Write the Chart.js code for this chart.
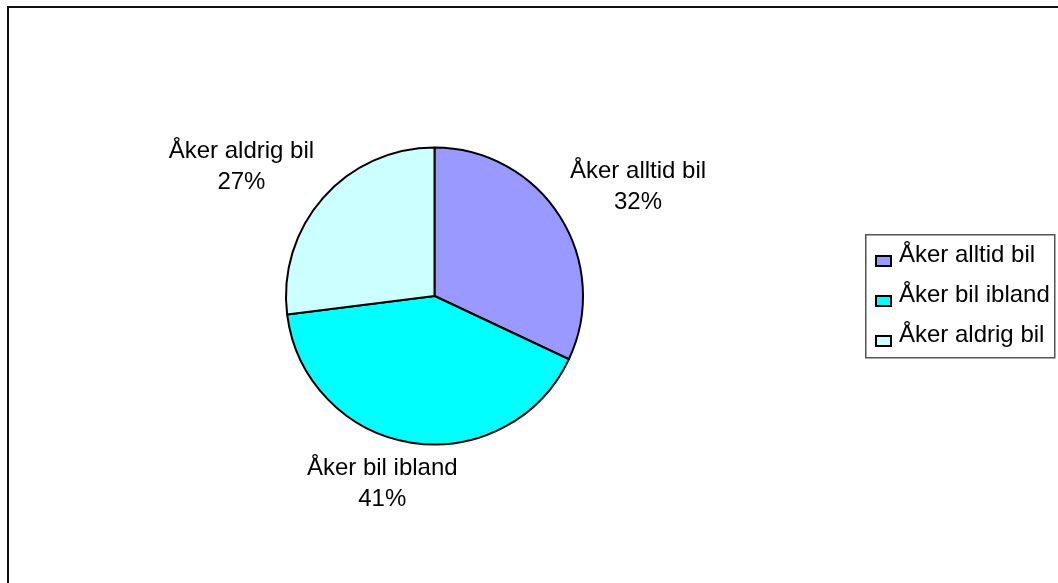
<!DOCTYPE html>
<html>
<head>
<meta charset="utf-8">
<script src="https://cdn.jsdelivr.net/npm/chart.js@4/dist/chart.umd.min.js"></script>
<style>
  html, body { margin: 0; padding: 0; background: #fff; }
  canvas { display: block; }
</style>
</head>
<body>
<canvas id="c" width="1058" height="583"></canvas>
<script>
// Andel som åker bil
const categories = ['Åker alltid bil', 'Åker bil ibland', 'Åker aldrig bil'];
const shares = [32, 41, 27];
const sliceColors = ['#9999FF', '#00FFFF', '#CCFFFF'];

const FONT = '"Liberation Sans", Arial, sans-serif';
const FONT_SIZE = 24;

// Outer frame (left and top edges visible)
const framePlugin = {
  id: 'frame',
  beforeDraw(chart) {
    const ctx = chart.ctx;
    ctx.save();
    ctx.fillStyle = '#fff';
    ctx.fillRect(0, 0, chart.width, chart.height);
    ctx.strokeStyle = '#111';
    ctx.lineWidth = 2;
    ctx.beginPath();
    ctx.moveTo(8, chart.height + 2);
    ctx.lineTo(8, 7);
    ctx.lineTo(chart.width + 2, 7);
    ctx.stroke();
    ctx.restore();
  }
};

// Category name and percentage outside each slice
const sliceLabelPlugin = {
  id: 'sliceLabels',
  afterDatasetsDraw(chart) {
    const ctx = chart.ctx;
    const meta = chart.getDatasetMeta(0);
    const values = chart.data.datasets[0].data;
    const total = values.reduce((a, b) => a + b, 0);
    const clamp = v => Math.max(-1, Math.min(1, v));
    ctx.save();
    ctx.font = FONT_SIZE + 'px ' + FONT;
    ctx.fillStyle = '#000';
    ctx.textAlign = 'center';
    ctx.textBaseline = 'alphabetic';
    meta.data.forEach((arc, i) => {
      const p = arc.getProps(['x', 'y', 'startAngle', 'endAngle', 'outerRadius'], true);
      const mid = (p.startAngle + p.endAngle) / 2;
      const dx = Math.cos(mid), dy = Math.sin(mid);
      const d = p.outerRadius + 12;
      const ax = p.x + dx * d, ay = p.y + dy * d;
      const line1 = chart.data.labels[i];
      const line2 = Math.round(values[i] / total * 100) + '%';
      const w = Math.max(ctx.measureText(line1).width, ctx.measureText(line2).width);
      const halfW = w / 2, halfH = 26;
      const cx = ax + halfW * clamp(dx * 2.3);
      const cy = ay + halfH * clamp(dy * 2.3);
      ctx.fillText(line1, cx, cy - 6);
      ctx.fillText(line2, cx, cy + 25);
    });
    ctx.restore();
  }
};

// Boxed legend to the right of the pie
const boxLegendPlugin = {
  id: 'boxLegend',
  afterDraw(chart) {
    const ctx = chart.ctx;
    const ds = chart.data.datasets[0];
    const left = chart.width - 193, top = 234, width = 189, height = 123;
    ctx.save();
    ctx.strokeStyle = '#555';
    ctx.lineWidth = 1.5;
    ctx.strokeRect(left + 0.75, top + 0.75, width, height);
    ctx.font = FONT_SIZE + 'px ' + FONT;
    ctx.textAlign = 'left';
    ctx.textBaseline = 'alphabetic';
    chart.data.labels.forEach((label, i) => {
      const rowY = top + 26 + i * 40;
      ctx.fillStyle = ds.backgroundColor[i];
      ctx.fillRect(left + 11, rowY - 4, 15, 10);
      ctx.strokeStyle = '#000';
      ctx.lineWidth = 2;
      ctx.strokeRect(left + 11, rowY - 4, 15, 10);
      ctx.fillStyle = '#000';
      ctx.fillText(label, left + 34, rowY + 2);
    });
    ctx.restore();
  }
};

new Chart(document.getElementById('c'), {
  type: 'pie',
  data: {
    labels: categories,
    datasets: [{
      data: shares,
      backgroundColor: sliceColors,
      borderColor: '#000',
      borderWidth: 2,
      hoverOffset: 0
    }]
  },
  options: {
    responsive: false,
    animation: false,
    radius: 148.5,
    layout: { padding: { left: 0, right: 189, top: 9, bottom: 0 } },
    plugins: {
      legend: { display: false },
      tooltip: { enabled: false }
    }
  },
  plugins: [framePlugin, sliceLabelPlugin, boxLegendPlugin]
});
</script>
</body>
</html>
